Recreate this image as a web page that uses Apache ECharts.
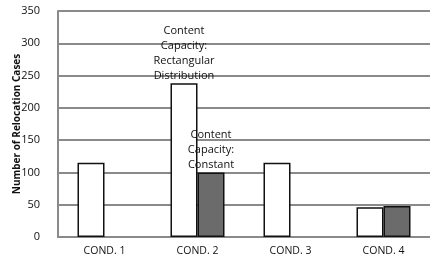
<!DOCTYPE html>
<html>
<head>
<meta charset="utf-8">
<script src="https://cdn.jsdelivr.net/npm/echarts@6/dist/echarts.min.js"></script>
<style>
html, body { margin: 0; padding: 0; background: #fff; }
#chart { width: 430px; height: 266px; }
</style>
</head>
<body>
<div id="chart"></div>
<script>
let categories = ['COND. 1', 'COND. 2', 'COND. 3', 'COND. 4']
let rectValues = [115, 238, 115, 46]
let constValues = [null, 100, null, 48]
let yTicks = [0, 50, 100, 150, 200, 250, 300, 350]

let font = '"Open Sans", "Liberation Sans", sans-serif'

let chart = echarts.init(document.getElementById('chart'))
chart.setOption({
    animation: false,
    grid: { left: 58, right: 0, top: 11, bottom: 29, outerBoundsMode: 'none' },
    xAxis: {
        type: 'category',
        data: categories,
        axisLine: { lineStyle: { color: '#8a8a8a', width: 2 } },
        axisTick: { show: false },
        axisLabel: { color: '#111', fontSize: 10.5, fontFamily: font, margin: 9 }
    },
    yAxis: {
        type: 'value',
        min: yTicks[0],
        max: yTicks[yTicks.length - 1],
        interval: 50,
        name: 'Number of Relocation Cases',
        nameLocation: 'middle',
        nameGap: 36,
        nameMoveOverlap: false,
        nameTextStyle: { color: '#111', fontSize: 10, fontWeight: 'bold', fontFamily: font },
        axisLine: { show: true, lineStyle: { color: '#8a8a8a', width: 2 } },
        axisTick: { show: false },
        axisLabel: { color: '#111', fontSize: 11, fontFamily: font, margin: 18 },
        splitLine: { lineStyle: { color: '#8a8a8a', width: 2 } }
    },
    series: [
        {
            type: 'bar',
            data: rectValues,
            barWidth: 27,
            barGap: '0%',
            itemStyle: { color: '#fff', borderColor: '#111', borderWidth: 1.5 },
            label: {
                show: true,
                position: 'top',
                distance: 0,
                lineHeight: 15,
                fontSize: 11,
                fontFamily: font,
                color: '#111',
                formatter: p => p.dataIndex === 1 ? 'Content\nCapacity:\nRectangular\nDistribution' : ''
            }
        },
        {
            type: 'bar',
            data: constValues,
            barWidth: 27,
            barGap: '0%',
            itemStyle: { color: '#6b6b6b', borderColor: '#111', borderWidth: 1.5 },
            label: {
                show: true,
                position: 'top',
                distance: 0,
                lineHeight: 15,
                fontSize: 11,
                fontFamily: font,
                color: '#111',
                formatter: p => p.dataIndex === 1 ? 'Content\nCapacity:\nConstant' : ''
            }
        }
    ]
})
</script>
</body>
</html>
